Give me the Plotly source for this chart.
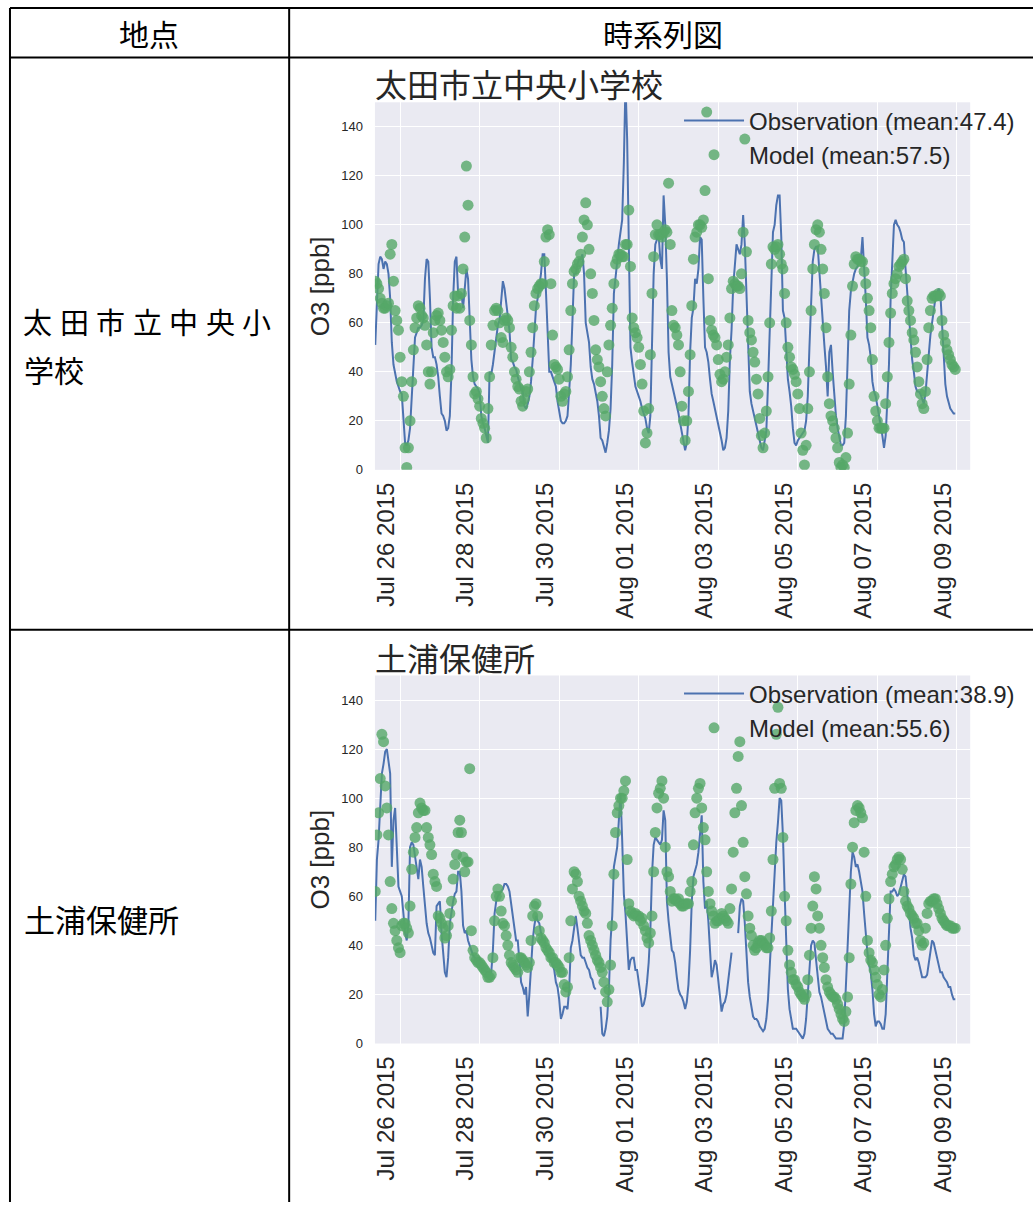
import pandas as pd
import plotly.graph_objects as go

W = 1033
H_FIG = 1202   # the page adds a few px below the figure; keeps the shot unscaled

# ---------------- data (hourly, from 2015-07-25 09:00) ----------------
start_time = "2015-07-25 09:00"

site_names = ["太田市立中央小学校", "土浦保健所"]
obs_labels = ["Observation (mean:47.4)", "Observation (mean:38.9)"]
mod_labels = ["Model (mean:57.5)", "Model (mean:55.6)"]

obs1 = [
    51, 72, 84, 87, 86, 82, 85, 84, 80, 70,
    52, 43, 39, 36, 34, 32, 31, 20, 11, 10,
    12, 17, 30, 46, 54, 56, 58, 58, 59, 61,
    78, 86, 85, 70, 50, 46, 46, 43, 38, 30,
    23, 22, 20, 16, 17, 22, 40, 70, 85, 87,
    72, 70, 72, 66, 74, 82, 78, 58, 45, 38,
    35, 34, 33, 31, 22, 19, 17, 14, 11, 40,
    39, 43, 49, 55, 59, 61, 70, 77, 74, 68,
    63, 57, 45, 44, 42, 41, 38, 35, 33, 32,
    26, 25, 27, 30, 36, 45, 58, 66, 70, 75,
    80, 88, 88, 73, 52, 40, 40, 38, 36, 34,
    28, 23, 20, 19, 19, 20, 22, 32, 43, 61,
    80, 80, 84, 86, 86, 88, 80, 60, 56, 52,
    42, 37, 35, 31, 28, 22, 13, 12, 9, 7,
    11, 16, 25, 43, 72, 80, 85, 92, 97, 102,
    125, 158, 135, 95, 50, 44, 38, 34, 32, 30,
    28, 25, 23, 21, 17, 15, 22, 50, 80, 92,
    94, 96, 86, 82, 112, 100, 78, 48, 38, 35,
    32, 30, 27, 23, 19, 15, 11, 8, 11, 22,
    48, 62, 66, 78, 76, 82, 95, 94, 70, 50,
    48, 44, 37, 31, 28, 25, 22, 19, 15, 12,
    8, 9, 13, 24, 45, 57, 75, 82, 92, 90,
    88, 92, 104, 92, 72, 48, 32, 27, 24, 22,
    19, 15, 12, 9, 8, 12, 16, 35, 57, 80,
    97, 100, 108, 112, 112, 95, 65, 62, 47, 37,
    32, 26, 17, 11, 10, 12, 13, 14, 15, 16,
    20, 30, 50, 70, 85, 90, 91, 91, 80, 68,
    60, 51, 42, 30, 48, 51, 40, 30, 22, 17,
    13, 10, 10, 11, 22, 45, 65, 73, 77, 80,
    82, 83, 85, 86, 95, 84, 70, 54, 51, 46,
    36, 32, 30, 26, 22, 19, 14, 9, 14, 28,
    43, 70, 88, 100, 102, 100, 99, 97, 94, 93,
    82, 72, 65, 55, 45, 40, 34, 32, 32, 31,
    29, 27, 31, 40, 46, 55, 60, 65, 70, 72,
    74, 72, 60, 45, 35, 30, 27, 25, 24, 23,
    23,
]

mod1 = [
    77, 76, 74, 70, 68, 66, 66, 67, 68, 88,
    92, 77, 65, 61, 57, 46, 36, 30, 9, 1,
    9, 20, 36, 49, 58, 62, 67, 66, 63, 62,
    59, 51, 40, 35, 40, 56, 61, 63, 64, 61,
    57, 52, 46, 40, 38, 41, 57, 67, 71, 66,
    71, 66, 72, 82, 95, 124, 108, 61, 51, 38,
    31, 32, 29, 26, 21, 19, 17, 13, 25, 38,
    51, 59, 65, 66, 65, 60, 54, 52, 61, 62,
    61, 58, 50, 46, 40, 37, 34, 33, 28, 26,
    29, 32, 33, 40, 48, 58, 67, 72, 74, 75,
    76, 76, 85, 95, 98, 96, 76, 55, 43, 42,
    41, 37, 30, 28, 31, 32, 38, 49, 65, 76,
    81, 82, 84, 85, 88, 95, 102, 109, 100, 90,
    80, 72, 61, 49, 45, 42, 36, 30, 25, 22,
    40, 51, 59, 66, 76, 84, 86, 88, 88, 87,
    87, 92, 92, 106, 83, 62, 58, 56, 54, 50,
    43, 35, 24, 11, 15, 25, 47, 72, 87, 96,
    100, 96, 96, 95, 97, 98, 97, 117, 92, 65,
    59, 58, 55, 51, 40, 26, 20, 12, 20, 32,
    47, 67, 86, 95, 97, 100, 100, 99, 102, 114,
    146, 78, 61, 57, 55, 54, 51, 45, 39, 36,
    37, 40, 46, 51, 62, 74, 77, 76, 75, 75,
    74, 80, 97, 135, 89, 61, 56, 53, 48, 44,
    37, 31, 21, 14, 9, 15, 24, 38, 60, 84,
    91, 90, 91, 92, 88, 84, 82, 72, 60, 50,
    46, 42, 41, 39, 36, 31, 25, 15, 8, 2,
    10, 25, 40, 65, 82, 92, 98, 100, 97, 90,
    82, 72, 58, 38, 27, 22, 20, 17, 13, 9,
    3, 1, 2, 1, 5, 15, 35, 55, 75, 84,
    87, 86, 86, 85, 85, 81, 76, 70, 65, 58,
    45, 30, 24, 20, 17, 17, 17, 17, 27, 38,
    52, 64, 72, 76, 78, 80, 83, 84, 85, 86,
    78, 69, 65, 61, 56, 53, 48, 42, 36, 31,
    27, 25, 32, 45, 58, 65, 70, 71, 71, 71,
    72, 71, 61, 55, 52, 49, 47, 45, 43, 42,
    41,
]

obs2 = [
    50, 75, 83, 100, 110, 114, 119, 120, 114, 110,
    72, 91, 96, 76, 64, 62, 60, 53, 45, 42,
    49, 80, 82, 81, 76, 72, 67, 75, 72, 64,
    56, 49, 45, 43, 40, 37, 36, 56, 57, 58,
    45, 35, 29, 27, 35, 49, 54, 58, 61, 62,
    70, 70, 62, 48, 45, 46, 42, 40, 38, 36,
    35, 34, 33, 32, 31, 30, 30, 29, 29, 29,
    29, 38, 53, 58, 60, 61, 62, 63, 65, 65,
    64, 62, 57, 52, 45, 42, 42, 35, 25, 23,
    20, 23, 11, 20, 33, 42, 48, 52, 50, 49,
    45, 42, 43, 39, 37, 35, 34, 32, 30, 25,
    23, 18, 10, 12, 15, 15, 14, 22, 39, 42,
    48, 52, 47, 40, 36, 35, 35, 33, 31, 30,
    27, 26, 23, 22, None, None, 15, 4, 3, 6,
    11, 22, 42, 52, 72, 77, 80, 91, 102, 83,
    61, 53, 43, 30, 34, 35, 35, 30, 30, 25,
    19, 15, 16, 19, 25, 33, 46, 69, 81, 84,
    83, 82, 81, 83, 95, 91, 58, 50, 43, 38,
    37, 33, 27, 22, 20, 19, 17, 14, 17, 24,
    38, 58, 68, 71, 73, 78, 85, 93, 66, 55,
    58, 50, 38, 27, 30, 34, 32, 26, 20, 13,
    16, 17, 20, 25, 31, 37, None, None, None, 45,
    56, 59, 58, 49, 35, 25, 19, 14, 11, 10,
    10, 9, 7, 6, 5, 6, 10, 18, 32, 45,
    58, 72, 82, 90, 100, 99, 85, 62, 42, 22,
    14, 9, 6, 6, 6, 5, 4, 3, 2, 4,
    10, 20, 32, 40, 42, 41, 34, 27, 21, 19,
    16, 13, 9, 6, 5, 4, 4, 3, 2, 2,
    2, 2, 2, 8, 24, 42, 57, 70, 78, 76,
    72, 73, 70, 66, 62, 53, 44, 37, 32, 29,
    22, 12, 7, 9, 9, 8, 6, 6, 12, 28,
    48, 62, 62, 63, 62, 60, 61, 64, 67, 69,
    68, 60, 53, 47, 43, 36, 34, 35, 33, 30,
    27, 27, 27, 28, 33, 38, 42, 41, 38, 35,
    32, 29, 29, 27, 26, 25, 23, 23, 20, 18,
    18,
]

mod2 = [
    62, 85, 94, 108, 126, 123, 105, 96, 85, 66,
    55, 49, 46, 42, 39, 37, 48, 49, 49, 47,
    45, 56, 71, 78, 84, 88, 94, 98, 96, 95,
    95, 88, 84, 81, 77, 69, 66, 64, 52, 51,
    49, 47, 43, 44, 48, 53, 58, 67, 73, 77,
    86, 91, 86, 76, 70, 74, 74, 112, 46, 38,
    35, 34, 33, 33, 32, 31, 30, 29, 27, 27,
    28, 35, 50, 60, 63, 60, 54, 49, 48, 44,
    40, 36, 33, 32, 31, 30, 29, 35, 35, 34,
    33, 32, 31, 33, 42, 52, 56, 57, 52, 46,
    43, 42, 41, 39, 38, 37, 35, 35, 33, 33,
    32, 31, 29, 29, 24, 21, 23, 35, 50, 63,
    70, 69, 66, 60, 58, 56, 54, 53, 49, 44,
    42, 40, 38, 36, 34, 33, 31, 29, 25, 21,
    17, 22, 32, 48, 69, 86, 94, 97, 100, 100,
    103, 107, 75, 57, 54, 53, 52, 53, 52, 52,
    50, 51, 48, 46, 43, 41, 45, 52, 70, 86,
    96, 102, 104, 107, 100, 80, 70, 68, 62, 58,
    59, 59, 58, 59, 57, 56, 56, 57, 57, 57,
    62, 66, 81, 94, 100, 104, 106, 96, 88, 83,
    70, 62, 57, 54, 52, 49, 50, 50, 51, 53,
    52, 51, 50, 49, 55, 63, 78, 94, 104, 117,
    123, 97, 82, 68, 61, 52, 47, 44, 40, 38,
    39, 41, 42, 42, 41, 40, 39, 39, 43, 54,
    75, 104, 126, 137, 106, 104, 84, 60, 50, 38,
    32, 29, 26, 26, 24, 23, 21, 20, 19, 18,
    20, 26, 36, 47, 56, 68, 63, 52, 47, 40,
    35, 31, 26, 23, 21, 20, 19, 19, 18, 16,
    14, 12, 10, 9, 13, 19, 35, 65, 80, 90,
    95, 97, 96, 94, 92, 78, 60, 42, 37, 34,
    33, 30, 27, 24, 20, 19, 22, 30, 40, 51,
    59, 66, 69, 72, 73, 75, 76, 75, 71, 62,
    58, 56, 55, 53, 52, 51, 49, 49, 46, 42,
    40, 41, 47, 53, 57, 58, 58, 59, 59, 57,
    55, 53, 51, 50, 49, 48, 48, 48, 47, 47,
    47,
]

y_ticks = [0, 20, 40, 60, 80, 100, 120, 140]
x_range = ["2015-07-25 08:48", "2015-08-09 08:00"]

# ---------------- helpers ----------------
def px(x):
    return x / W

def py(y):
    return 1 - y / H_FIG

times = pd.date_range(start_time, periods=len(obs1), freq="h")

BLUE = "#4C72B0"
GREEN = "#55A868"
TXT = "#262626"
SANS = "Liberation Sans, Arial, sans-serif"
CJK = "Noto Sans CJK JP, sans-serif"

fig = go.Figure()

panels = [
    dict(obs=obs1, mod=mod1, xa="x", ya="y", leg="legend", top=103, bot=473, title_y=84),
    dict(obs=obs2, mod=mod2, xa="x2", ya="y2", leg="legend2", top=680, bot=1050.5, title_y=661),
]

for i, p in enumerate(panels):
    fig.add_trace(go.Scatter(
        x=times, y=p["obs"], mode="lines", name=obs_labels[i],
        line=dict(color=BLUE, width=2), connectgaps=False,
        xaxis=p["xa"], yaxis=p["ya"], legend=p["leg"],
    ))
    fig.add_trace(go.Scatter(
        x=times, y=p["mod"], mode="markers", name=mod_labels[i],
        marker=dict(color=GREEN, size=11, opacity=0.8, line=dict(width=0)),
        xaxis=p["xa"], yaxis=p["ya"], legend=p["leg"],
    ))

axis_common_x = dict(
    type="date", range=x_range, tick0="2015-07-26", dtick=2 * 86400000,
    tickformat="%b %d %Y", tickangle=-90, showgrid=True, gridcolor="white",
    gridwidth=1.3, zeroline=False, showline=False, ticks="",
    ticklabelshift=-14, ticklabelstandoff=7,
    tickfont=dict(family=SANS, size=24, color=TXT),
)
axis_common_y = dict(
    range=[0, 150], tickmode="array", tickvals=y_ticks, showgrid=True,
    gridcolor="white", gridwidth=1.3, zeroline=False, showline=False, ticks="",
    ticklabelstandoff=11,
    tickfont=dict(family=SANS, size=13, color=TXT),
)

legend_common = dict(xanchor="left", yanchor="top", itemwidth=60,
                     bgcolor="rgba(0,0,0,0)", font=dict(family=SANS, size=24, color=TXT))

layout = dict(
    width=W, height=H_FIG, margin=dict(l=0, r=0, t=0, b=0),
    paper_bgcolor="white", plot_bgcolor="#EAEAF2",
    xaxis=dict(domain=[px(373), px(970)], anchor="y", **axis_common_x),
    yaxis=dict(domain=[py(473), py(103)], anchor="x", **axis_common_y),
    xaxis2=dict(domain=[px(373), px(970)], anchor="y2", **axis_common_x),
    yaxis2=dict(domain=[py(1050.5), py(680)], anchor="x2", **axis_common_y),
    legend=dict(x=px(678), y=py(99), **legend_common),
    legend2=dict(x=px(678), y=py(676), **legend_common),
    showlegend=True,
)
fig.update_layout(**layout)

annotations = []
for i, p in enumerate(panels):
    annotations.append(dict(
        text=site_names[i], x=px(371), y=py(p["title_y"]), xref="paper", yref="paper",
        xanchor="left", yanchor="middle", showarrow=False,
        font=dict(family=CJK, size=32, color=TXT),
    ))
    annotations.append(dict(
        text="O3 [ppb]", x=px(318), y=py((p["top"] + p["bot"]) / 2), xref="paper", yref="paper",
        xanchor="center", yanchor="middle", showarrow=False, textangle=-90,
        font=dict(family=SANS, size=26, color=TXT),
    ))

# table header
header_texts = ["地点", "時系列図"]
header_x = [146, 662]
for t, xx in zip(header_texts, header_x):
    annotations.append(dict(
        text=t, x=px(xx), y=py(33), xref="paper", yref="paper",
        xanchor="center", yanchor="middle", showarrow=False,
        font=dict(family=CJK, size=30, color="black"),
    ))

# left column (distributed first line)
line1 = "太田市立中央小"
for k, ch in enumerate(line1):
    annotations.append(dict(
        text=ch, x=px(35 + k * 36.6), y=py(323), xref="paper", yref="paper",
        xanchor="center", yanchor="middle", showarrow=False,
        font=dict(family=CJK, size=29, color="black"),
    ))
annotations.append(dict(
    text="学校", x=px(19), y=py(371), xref="paper", yref="paper",
    xanchor="left", yanchor="middle", showarrow=False,
    font=dict(family=CJK, size=30, color="black"),
))
annotations.append(dict(
    text="土浦保健所", x=px(19), y=py(925), xref="paper", yref="paper",
    xanchor="left", yanchor="middle", showarrow=False,
    font=dict(family=CJK, size=31, color="black"),
))
fig.update_layout(annotations=annotations)

# table lines
LW = 2
shapes = []
def hline(y, x0, x1):
    shapes.append(dict(type="line", xref="paper", yref="paper", x0=px(x0), x1=px(x1),
                       y0=py(y), y1=py(y), line=dict(color="black", width=LW)))
def vline(x, y0, y1):
    shapes.append(dict(type="line", xref="paper", yref="paper", x0=px(x), x1=px(x),
                       y0=py(y0), y1=py(y1), line=dict(color="black", width=LW)))
hline(8, 7, 1033)
hline(58, 7, 1033)
hline(634, 7, 1033)
vline(7, 8, 1210)
vline(287, 8, 1210)
fig.update_layout(shapes=shapes)

fig.write_html("out.html", config={"displayModeBar": False})
